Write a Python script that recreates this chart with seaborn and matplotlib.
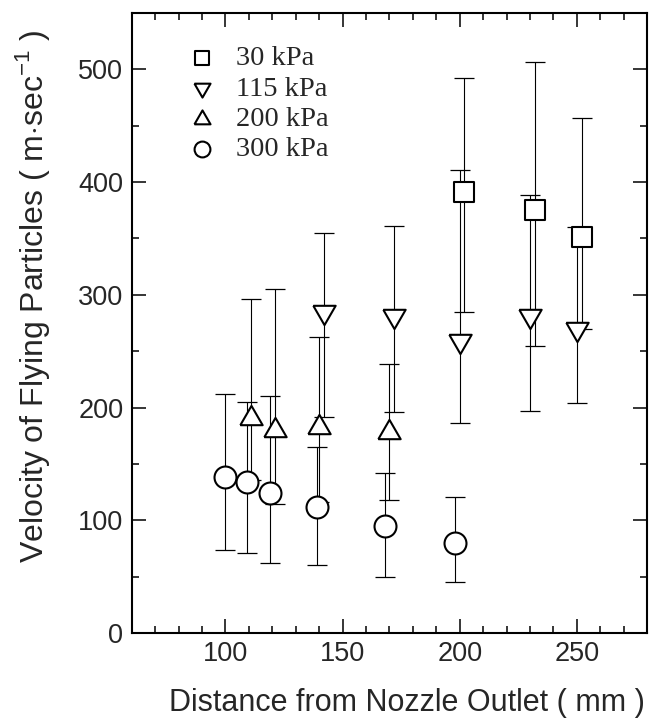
import numpy as np
import pandas as pd
import matplotlib
matplotlib.use("Agg")
import matplotlib.pyplot as plt
from matplotlib.ticker import MultipleLocator
import seaborn as sns

# values (velocity in m/s, distance in mm)
# error bars kept as read: lower end / upper end
x_30 = [202, 232, 252]
v_30 = [391, 375, 351]
lo_30 = [285, 255, 270]
hi_30 = [492, 507, 457]

x_115 = [142, 172, 200, 230, 250]
v_115 = [285, 281, 259, 281, 270]
lo_115 = [192, 196, 186, 197, 204]
hi_115 = [355, 361, 411, 389, 360]

x_200 = [111, 121, 140, 170]
v_200 = [191, 180, 183, 178]
lo_200 = [136, 114, 116, 118]
hi_200 = [296, 305, 263, 239]

x_300 = [100, 109, 119, 139, 168, 198]
v_300 = [138, 134, 124, 112, 95, 80]
lo_300 = [74, 71, 62, 60, 50, 45]
hi_300 = [212, 205, 210, 165, 142, 121]

labels = ["30 kPa", "115 kPa", "200 kPa", "300 kPa"]

# wider-than-tall triangles like the original
tri_up = [(-1, -0.6), (1, -0.6), (0, 1.13), (-1, -0.6)]
tri_dn = [(-1, 0.6), (1, 0.6), (0, -1.13), (-1, 0.6)]

series = [
    (labels[0], x_30, v_30, lo_30, hi_30, "s", 205),
    (labels[1], x_115, v_115, lo_115, hi_115, tri_dn, 330),
    (labels[2], x_200, v_200, lo_200, hi_200, tri_up, 330),
    (labels[3], x_300, v_300, lo_300, hi_300, "o", 250),
]

sns.set_theme(style="ticks")
plt.rcParams['font.family'] = ['Liberation Sans', 'DejaVu Sans']
plt.rcParams['mathtext.fontset'] = 'custom'
plt.rcParams['mathtext.rm'] = 'Liberation Sans'

fig = plt.figure(figsize=(6.59, 7.24), dpi=100)
ax = fig.add_axes([0.2, 0.1257, 0.782, 0.8563])

for name, xs, ys, lo, hi, mk, s in series:
    xs = np.array(xs, float)
    ys = np.array(ys, float)
    yerr = [ys - np.array(lo), np.array(hi) - ys]
    ax.errorbar(xs, ys, yerr=yerr, fmt="none", ecolor="black",
                elinewidth=0.8, capsize=7, capthick=0.9, zorder=2)
    df = pd.DataFrame({"dist": xs, "vel": ys})
    sns.scatterplot(data=df, x="dist", y="vel", marker=mk, s=s,
                    facecolor="white", edgecolor="black", linewidth=1.5,
                    label=name, zorder=3, ax=ax)

ax.set_xlim(60, 280)
ax.set_ylim(0, 550)
ax.xaxis.set_major_locator(MultipleLocator(50))
ax.xaxis.set_minor_locator(MultipleLocator(10))
ax.yaxis.set_major_locator(MultipleLocator(100))
ax.yaxis.set_minor_locator(MultipleLocator(50))
ax.tick_params(which="both", direction="in", top=True, right=True,
               labelsize=19.5, width=1.1, color="black")
ax.tick_params(which="major", length=10, pad=6)
ax.tick_params(which="minor", length=5)
for sp in ax.spines.values():
    sp.set_linewidth(1.5)
    sp.set_color("black")

ax.set_xlabel("Distance from Nozzle Outlet ( mm )", fontsize=22)
ax.set_ylabel("Velocity of Flying Particles ( m$\\cdot$sec$^{-1}$ )", fontsize=23)
ax.xaxis.set_label_coords(0.534, -0.089)
ax.yaxis.set_label_coords(-0.155, 0.543)

leg = ax.legend(loc="upper left", bbox_to_anchor=(0.07, 0.98), frameon=False,
                prop={"family": "Liberation Serif", "size": 20.5},
                markerscale=0.72, handlelength=1.0, handletextpad=0.7,
                labelspacing=0.155, borderpad=0.2)

fig.savefig("out.png", dpi=100)
